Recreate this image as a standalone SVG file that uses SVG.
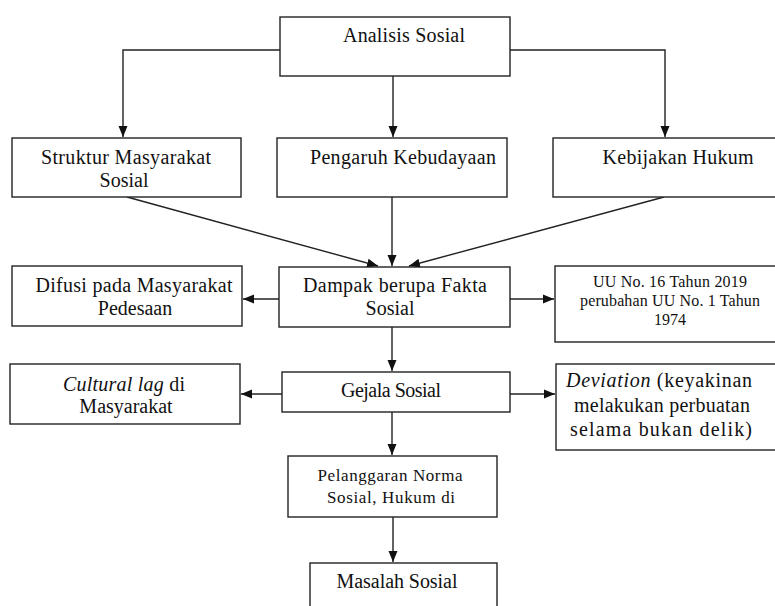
<svg xmlns="http://www.w3.org/2000/svg" width="775" height="606" viewBox="0 0 775 606">
<defs>
<style>
.box{fill:#fff;stroke:#222;stroke-width:1.4}
.t{font-family:"Liberation Serif","Times New Roman",serif;font-size:20px;fill:#111;text-anchor:middle}
.s{font-size:16px}
.m{font-size:17px}
.c{fill:none;stroke:#222;stroke-width:1.4}
</style>
<marker id="ah" markerUnits="userSpaceOnUse" markerWidth="12" markerHeight="10" refX="11" refY="5" orient="auto">
<path d="M0,0.5 L11,5 L0,9.5 z" fill="#111"/>
</marker>
</defs>
<rect width="775" height="606" fill="#fff"/>
<g id="connectors">
<path class="c" d="M280,50 H123 V137" marker-end="url(#ah)"/>
<path class="c" d="M510,50 H665 V137" marker-end="url(#ah)"/>
<path class="c" d="M393,76 V137" marker-end="url(#ah)"/>
<path class="c" d="M392,197 V266" marker-end="url(#ah)"/>
<path class="c" d="M127,197 L378,266" marker-end="url(#ah)"/>
<path class="c" d="M664,197 L409,266" marker-end="url(#ah)"/>
<path class="c" d="M279,299 H243" marker-end="url(#ah)"/>
<path class="c" d="M510,299 H554" marker-end="url(#ah)"/>
<path class="c" d="M392,327 V371" marker-end="url(#ah)"/>
<path class="c" d="M282,394 H241" marker-end="url(#ah)"/>
<path class="c" d="M510,394 H555" marker-end="url(#ah)"/>
<path class="c" d="M392,412 V455" marker-end="url(#ah)"/>
<path class="c" d="M393,517 V562" marker-end="url(#ah)"/>
</g>
<g id="analisis">
<rect class="box" x="280" y="17" width="230" height="59"/>
<text class="t" x="404" y="42" textLength="122" lengthAdjust="spacing">Analisis Sosial</text>
</g>
<g id="struktur">
<rect class="box" x="12" y="138" width="229" height="59"/>
<text class="t" x="126" y="164" textLength="170" lengthAdjust="spacing">Struktur Masyarakat</text>
<text class="t" x="124" y="187">Sosial</text>
</g>
<g id="pengaruh">
<rect class="box" x="277" y="138" width="230" height="59"/>
<text class="t" x="403" y="164" textLength="186" lengthAdjust="spacing">Pengaruh Kebudayaan</text>
</g>
<g id="kebijakan">
<rect class="box" x="553" y="138" width="260" height="59"/>
<text class="t" x="678" y="164" textLength="151" lengthAdjust="spacing">Kebijakan Hukum</text>
</g>
<g id="difusi">
<rect class="box" x="12" y="266" width="230" height="60"/>
<text class="t" x="134" y="292" textLength="197" lengthAdjust="spacing">Difusi pada Masyarakat</text>
<text class="t" x="135" y="315">Pedesaan</text>
</g>
<g id="dampak">
<rect class="box" x="279" y="267" width="231" height="60"/>
<text class="t" x="395" y="292" textLength="184" lengthAdjust="spacing">Dampak berupa Fakta</text>
<text class="t" x="390" y="315">Sosial</text>
</g>
<g id="uu">
<rect class="box" x="555" y="266" width="260" height="76"/>
<text class="t s" x="670" y="287" textLength="154" lengthAdjust="spacing">UU No. 16 Tahun 2019</text>
<text class="t s" x="670" y="306" textLength="180" lengthAdjust="spacing">perubahan UU No. 1 Tahun</text>
<text class="t s" x="670" y="325">1974</text>
</g>
<g id="cultural">
<rect class="box" x="10" y="364" width="230" height="60"/>
<text class="t" x="124" y="391" textLength="122" lengthAdjust="spacing"><tspan font-style="italic">Cultural lag</tspan> di</text>
<text class="t" x="126" y="413">Masyarakat</text>
</g>
<g id="gejala">
<rect class="box" x="282" y="372" width="228" height="40"/>
<text class="t" x="391" y="397" textLength="100" lengthAdjust="spacing">Gejala Sosial</text>
</g>
<g id="deviation">
<rect class="box" x="556" y="364" width="260" height="86"/>
<text class="t" x="659" y="387" textLength="186" lengthAdjust="spacing"><tspan font-style="italic">Deviation</tspan> (keyakinan</text>
<text class="t" x="662" y="412" textLength="176" lengthAdjust="spacing">melakukan perbuatan</text>
<text class="t" x="661" y="436" textLength="182" lengthAdjust="spacing">selama bukan delik)</text>
</g>
<g id="pelanggaran">
<rect class="box" x="288" y="456" width="209" height="61"/>
<text class="t m" x="390" y="481" textLength="145" lengthAdjust="spacing">Pelanggaran Norma</text>
<text class="t m" x="391" y="503" textLength="128" lengthAdjust="spacing">Sosial, Hukum di</text>
</g>
<g id="masalah">
<rect class="box" x="310" y="563" width="187" height="80"/>
<text class="t" x="397" y="588" textLength="121" lengthAdjust="spacing">Masalah Sosial</text>
</g>
</svg>
